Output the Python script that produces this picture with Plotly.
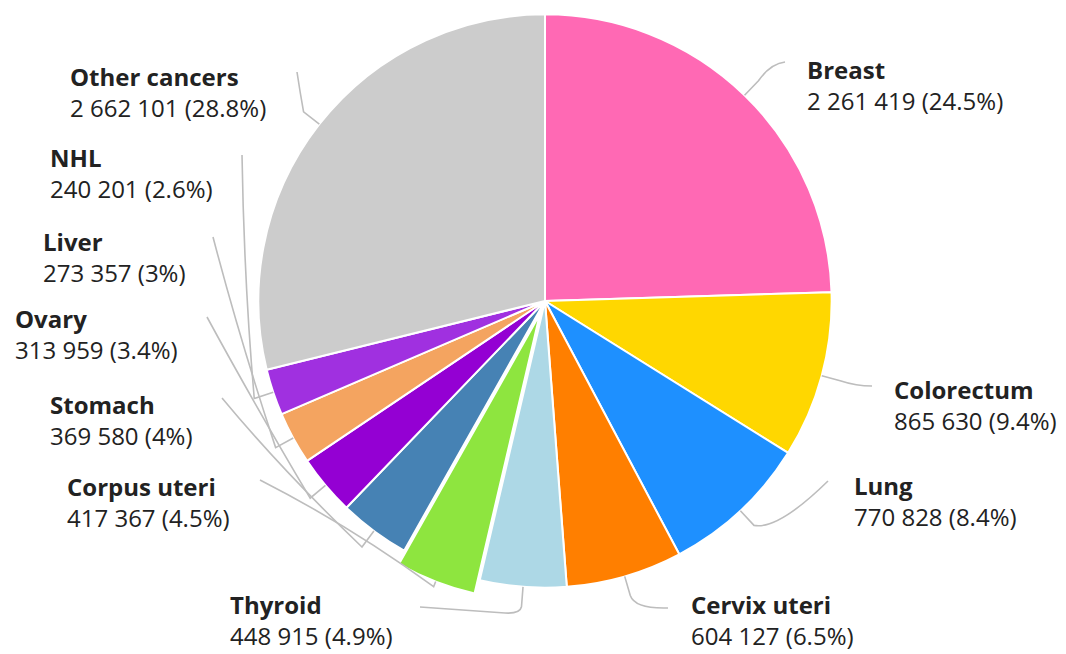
import math
import plotly.graph_objects as go

# Estimated new cancer cases in women by site
categories = ["Breast", "Colorectum", "Lung", "Cervix uteri", "Thyroid",
              "Corpus uteri", "Stomach", "Ovary", "Liver", "NHL", "Other cancers"]
cases = [2261419, 865630, 770828, 604127, 448915,
         417367, 369580, 313959, 273357, 240201, 2662101]
colors = ["#ff69b4", "#ffd700", "#1e90ff", "#ff7f00", "#add8e6",
          "#8ee53f", "#4682b4", "#9400d3", "#f4a460", "#a030e0", "#cccccc"]
pulls = [0, 0, 0, 0, 0, 0.05, 0, 0, 0, 0, 0]

W, H = 1066, 654
CX = 545            # pie centre, px from left
PIE_BOX = 602       # square domain that holds the pie, px (top edge at y=0)
FONT = "Open Sans"
LINE_COLOR = "#bdbdbd"

# label placement: text left edge, centre of the two-row label block, and the
# leader route beyond the tick (segments in px, y measured from the top)
layout_spec = {
    "Breast":        (805, 85,  [("Q", (770, 64), (785, 62))]),
    "Colorectum":    (892, 405, [("Q", (856, 386), (872, 386))]),
    "Lung":          (852, 501, [("Q", (778, 530), (828, 481))]),
    "Cervix uteri":  (689, 620, [("Q", (635, 609), (668, 608))]),
    "Thyroid":       (228, 620, [("Q", (520, 614), (505, 613)), ("L", (420, 607))]),
    "Corpus uteri":  (65, 502,  [("Q", (352, 527), (260, 480))]),
    "Stomach":       (48, 420,  [("Q", (280, 468), (222, 398))]),
    "Ovary":         (13, 334,  [("Q", (252, 400), (207, 317))]),
    "Liver":         (41, 257,  [("Q", (240, 340), (213, 237))]),
    "NHL":           (48, 173,  [("Q", (244, 280), (242, 155))]),
    "Other cancers": (68, 92,   [("Q", (300, 92), (297, 72))]),
}


def to_paper(pt):
    return pt[0] / W, 1 - pt[1] / H


def fmt_point(pt):
    x, y = to_paper(pt)
    return f"{x:.5f},{y:.5f}"


total = sum(cases)
max_pull = max(pulls)
radius = PIE_BOX / (2 + 2 * max_pull)
cy = PIE_BOX / 2

fig = go.Figure(go.Pie(
    labels=categories,
    values=cases,
    sort=False,
    direction="clockwise",
    rotation=0,
    pull=pulls,
    textinfo="none",
    hoverinfo="label+value+percent",
    marker=dict(colors=colors, line=dict(color="white", width=2)),
    domain=dict(x=[(CX - PIE_BOX / 2) / W, (CX + PIE_BOX / 2) / W],
                y=[1 - PIE_BOX / H, 1]),
    showlegend=False,
))

shapes = []
annotations = []
cum = 0
for name, value, pull in zip(categories, cases, pulls):
    mid = (cum + value / 2) / total * 2 * math.pi
    cum += value
    dx, dy = math.sin(mid), -math.cos(mid)
    r_edge = radius * (1 + pull)
    edge = (CX + r_edge * dx, cy + r_edge * dy)
    base = (CX + (radius + 20) * dx, cy + (radius + 20) * dy)

    tx, block_y, route = layout_spec[name]
    path = f"M {fmt_point(edge)} L {fmt_point(base)}"
    for seg in route:
        if seg[0] == "Q":
            path += f" Q {fmt_point(seg[1])} {fmt_point(seg[2])}"
        else:
            path += f" L {fmt_point(seg[1])}"
    shapes.append(dict(type="path", path=path, xref="paper", yref="paper",
                       line=dict(color=LINE_COLOR, width=1.6)))

    pct = round(value / total * 100, 1)
    value_text = f"{value:,}".replace(",", " ") + f" ({pct:g}%)"
    px, py = to_paper((tx, block_y))
    annotations.append(dict(
        x=px, y=py, xref="paper", yref="paper",
        xanchor="left", yanchor="middle", align="left", showarrow=False,
        text=f"<b>{name}</b><br>{value_text}",
        font=dict(family=FONT, size=24, color="#222222"),
    ))

fig.update_layout(
    width=W, height=H,
    margin=dict(l=0, r=0, t=0, b=0),
    paper_bgcolor="white",
    plot_bgcolor="white",
    shapes=shapes,
    annotations=annotations,
)

fig.write_html("out.html")
